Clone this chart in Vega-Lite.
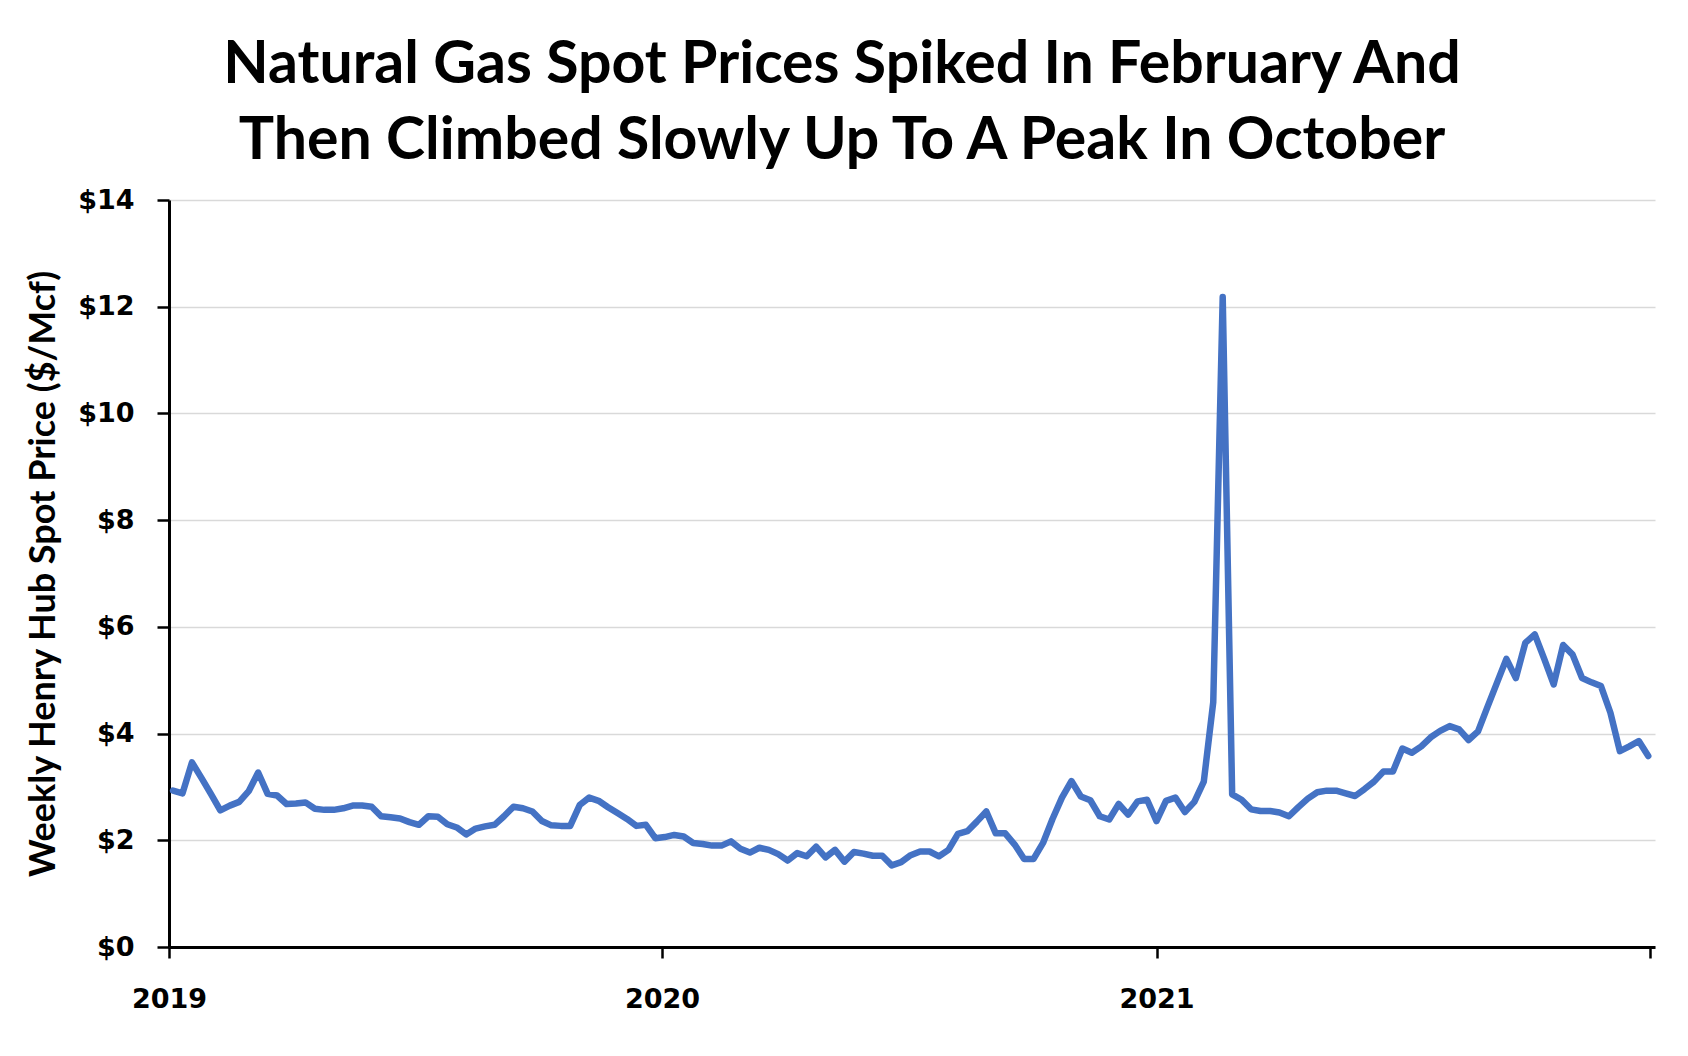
{
  "$schema": "https://vega.github.io/schema/vega-lite/v6.json",
  "width": 1486,
  "height": 747,
  "autosize": {"type": "none"},
  "padding": {"left": 169, "top": 200, "right": 33, "bottom": 109},
  "background": "white",
  "title": {
    "text": ["Natural Gas Spot Prices Spiked In February And", "Then Climbed Slowly Up To A Peak In October"],
    "font": "Lato",
    "fontSize": 59,
    "fontWeight": "bold",
    "color": "black",
    "anchor": "middle",
    "frame": "group",
    "dx": -70,
    "offset": 15,
    "lineHeight": 76
  },
  "config": {"view": {"stroke": null}},
  "data": {"values": [
    {"date": "2019-01-04", "price": 2.93}, {"date": "2019-01-11", "price": 2.88}, {"date": "2019-01-18", "price": 3.46}, {"date": "2019-01-25", "price": 3.17},
    {"date": "2019-02-01", "price": 2.87}, {"date": "2019-02-08", "price": 2.56}, {"date": "2019-02-15", "price": 2.65}, {"date": "2019-02-22", "price": 2.72},
    {"date": "2019-03-01", "price": 2.92}, {"date": "2019-03-08", "price": 3.27}, {"date": "2019-03-15", "price": 2.87}, {"date": "2019-03-22", "price": 2.84},
    {"date": "2019-03-29", "price": 2.68}, {"date": "2019-04-05", "price": 2.69}, {"date": "2019-04-12", "price": 2.71}, {"date": "2019-04-19", "price": 2.59},
    {"date": "2019-04-26", "price": 2.57}, {"date": "2019-05-03", "price": 2.57}, {"date": "2019-05-10", "price": 2.60}, {"date": "2019-05-17", "price": 2.65},
    {"date": "2019-05-24", "price": 2.65}, {"date": "2019-05-31", "price": 2.63}, {"date": "2019-06-07", "price": 2.45}, {"date": "2019-06-14", "price": 2.43},
    {"date": "2019-06-21", "price": 2.41}, {"date": "2019-06-28", "price": 2.34}, {"date": "2019-07-05", "price": 2.29}, {"date": "2019-07-12", "price": 2.45},
    {"date": "2019-07-19", "price": 2.44}, {"date": "2019-07-26", "price": 2.30}, {"date": "2019-08-02", "price": 2.24}, {"date": "2019-08-09", "price": 2.11},
    {"date": "2019-08-16", "price": 2.22}, {"date": "2019-08-23", "price": 2.26}, {"date": "2019-08-30", "price": 2.29}, {"date": "2019-09-06", "price": 2.45},
    {"date": "2019-09-13", "price": 2.63}, {"date": "2019-09-20", "price": 2.60}, {"date": "2019-09-27", "price": 2.54}, {"date": "2019-10-04", "price": 2.36},
    {"date": "2019-10-11", "price": 2.28}, {"date": "2019-10-18", "price": 2.27}, {"date": "2019-10-25", "price": 2.27}, {"date": "2019-11-01", "price": 2.66},
    {"date": "2019-11-08", "price": 2.80}, {"date": "2019-11-15", "price": 2.74}, {"date": "2019-11-22", "price": 2.62}, {"date": "2019-11-29", "price": 2.51},
    {"date": "2019-12-06", "price": 2.40}, {"date": "2019-12-13", "price": 2.27}, {"date": "2019-12-20", "price": 2.29}, {"date": "2019-12-27", "price": 2.04},
    {"date": "2020-01-03", "price": 2.06}, {"date": "2020-01-10", "price": 2.10}, {"date": "2020-01-17", "price": 2.07}, {"date": "2020-01-24", "price": 1.95},
    {"date": "2020-01-31", "price": 1.93}, {"date": "2020-02-07", "price": 1.90}, {"date": "2020-02-14", "price": 1.90}, {"date": "2020-02-21", "price": 1.98},
    {"date": "2020-02-28", "price": 1.84}, {"date": "2020-03-06", "price": 1.77}, {"date": "2020-03-13", "price": 1.86}, {"date": "2020-03-20", "price": 1.82},
    {"date": "2020-03-27", "price": 1.74}, {"date": "2020-04-03", "price": 1.62}, {"date": "2020-04-10", "price": 1.76}, {"date": "2020-04-17", "price": 1.70},
    {"date": "2020-04-24", "price": 1.88}, {"date": "2020-05-01", "price": 1.68}, {"date": "2020-05-08", "price": 1.82}, {"date": "2020-05-15", "price": 1.60},
    {"date": "2020-05-22", "price": 1.78}, {"date": "2020-05-29", "price": 1.75}, {"date": "2020-06-05", "price": 1.71}, {"date": "2020-06-12", "price": 1.71},
    {"date": "2020-06-19", "price": 1.53}, {"date": "2020-06-26", "price": 1.59}, {"date": "2020-07-03", "price": 1.72}, {"date": "2020-07-10", "price": 1.79},
    {"date": "2020-07-17", "price": 1.79}, {"date": "2020-07-24", "price": 1.70}, {"date": "2020-07-31", "price": 1.82}, {"date": "2020-08-07", "price": 2.12},
    {"date": "2020-08-14", "price": 2.17}, {"date": "2020-08-21", "price": 2.35}, {"date": "2020-08-28", "price": 2.54}, {"date": "2020-09-04", "price": 2.13},
    {"date": "2020-09-11", "price": 2.13}, {"date": "2020-09-18", "price": 1.92}, {"date": "2020-09-25", "price": 1.65}, {"date": "2020-10-02", "price": 1.65},
    {"date": "2020-10-09", "price": 1.95}, {"date": "2020-10-16", "price": 2.40}, {"date": "2020-10-23", "price": 2.80}, {"date": "2020-10-30", "price": 3.11},
    {"date": "2020-11-06", "price": 2.82}, {"date": "2020-11-13", "price": 2.75}, {"date": "2020-11-20", "price": 2.45}, {"date": "2020-11-27", "price": 2.39},
    {"date": "2020-12-04", "price": 2.68}, {"date": "2020-12-11", "price": 2.48}, {"date": "2020-12-18", "price": 2.73}, {"date": "2020-12-25", "price": 2.76},
    {"date": "2021-01-01", "price": 2.36}, {"date": "2021-01-08", "price": 2.74}, {"date": "2021-01-15", "price": 2.80}, {"date": "2021-01-22", "price": 2.53},
    {"date": "2021-01-29", "price": 2.72}, {"date": "2021-02-05", "price": 3.10}, {"date": "2021-02-12", "price": 4.59}, {"date": "2021-02-19", "price": 12.18},
    {"date": "2021-02-26", "price": 2.86}, {"date": "2021-03-05", "price": 2.76}, {"date": "2021-03-12", "price": 2.58}, {"date": "2021-03-19", "price": 2.55},
    {"date": "2021-03-26", "price": 2.55}, {"date": "2021-04-02", "price": 2.52}, {"date": "2021-04-09", "price": 2.45}, {"date": "2021-04-16", "price": 2.62},
    {"date": "2021-04-23", "price": 2.78}, {"date": "2021-04-30", "price": 2.90}, {"date": "2021-05-07", "price": 2.93}, {"date": "2021-05-14", "price": 2.93},
    {"date": "2021-05-21", "price": 2.88}, {"date": "2021-05-28", "price": 2.83}, {"date": "2021-06-04", "price": 2.96}, {"date": "2021-06-11", "price": 3.10},
    {"date": "2021-06-18", "price": 3.29}, {"date": "2021-06-25", "price": 3.29}, {"date": "2021-07-02", "price": 3.72}, {"date": "2021-07-09", "price": 3.64},
    {"date": "2021-07-16", "price": 3.76}, {"date": "2021-07-23", "price": 3.93}, {"date": "2021-07-30", "price": 4.05}, {"date": "2021-08-06", "price": 4.14},
    {"date": "2021-08-13", "price": 4.08}, {"date": "2021-08-20", "price": 3.88}, {"date": "2021-08-27", "price": 4.04}, {"date": "2021-09-03", "price": 4.50},
    {"date": "2021-09-10", "price": 4.95}, {"date": "2021-09-17", "price": 5.40}, {"date": "2021-09-24", "price": 5.04}, {"date": "2021-10-01", "price": 5.70},
    {"date": "2021-10-08", "price": 5.86}, {"date": "2021-10-15", "price": 5.40}, {"date": "2021-10-22", "price": 4.92}, {"date": "2021-10-29", "price": 5.66},
    {"date": "2021-11-05", "price": 5.48}, {"date": "2021-11-12", "price": 5.04}, {"date": "2021-11-19", "price": 4.96}, {"date": "2021-11-26", "price": 4.89},
    {"date": "2021-12-03", "price": 4.39}, {"date": "2021-12-10", "price": 3.67}, {"date": "2021-12-17", "price": 3.76}, {"date": "2021-12-24", "price": 3.86},
    {"date": "2021-12-31", "price": 3.58}
  ]},
  "mark": {"type": "line", "color": "#4472C4", "strokeWidth": 6.5, "strokeJoin": "round", "strokeCap": "round"},
  "encoding": {
    "x": {
      "field": "date",
      "type": "temporal",
      "scale": {
        "type": "utc",
        "domain": [
          {"year": 2019, "month": 1, "date": 1, "utc": true},
          {"year": 2022, "month": 1, "date": 5, "utc": true}
        ]
      },
      "axis": {
        "title": null,
        "grid": false,
        "values": [
          {"year": 2019, "month": 1, "date": 1, "utc": true},
          {"year": 2020, "month": 1, "date": 1, "utc": true},
          {"year": 2021, "month": 1, "date": 1, "utc": true},
          {"year": 2022, "month": 1, "date": 1, "utc": true}
        ],
        "labelExpr": "utcFormat(datum.value, '%Y') == '2022' ? '' : utcFormat(datum.value, '%Y')",
        "labelFont": "DejaVu Sans",
        "labelFontWeight": "bold",
        "labelFontSize": 27,
        "labelColor": "black",
        "labelPadding": 28,
        "labelFlush": false,
        "labelOverlap": false,
        "domainColor": "black",
        "domainWidth": 3,
        "tickColor": "black",
        "tickWidth": 2.5,
        "tickSize": 11
      }
    },
    "y": {
      "field": "price",
      "type": "quantitative",
      "scale": {"domain": [0, 14], "nice": false, "zero": true},
      "axis": {
        "title": "Weekly Henry Hub Spot Price ($/Mcf)",
        "titleFont": "Lato",
        "titleFontSize": 36,
        "titleFontWeight": "bold",
        "titleColor": "black",
        "titleAngle": -90,
        "titleX": -126,
        "titleY": 373.5,
        "titleAlign": "center",
        "titleBaseline": "middle",
        "values": [0, 2, 4, 6, 8, 10, 12, 14],
        "labelExpr": "'$' + datum.value",
        "labelFont": "DejaVu Sans",
        "labelFontWeight": "bold",
        "labelFontSize": 27,
        "labelColor": "black",
        "labelPadding": 23,
        "labelFlush": false,
        "domainColor": "black",
        "domainWidth": 3,
        "tickColor": "black",
        "tickWidth": 2.5,
        "tickSize": 12,
        "grid": true,
        "gridColor": "#d9d9d9",
        "gridWidth": 1.5
      }
    }
  }
}
